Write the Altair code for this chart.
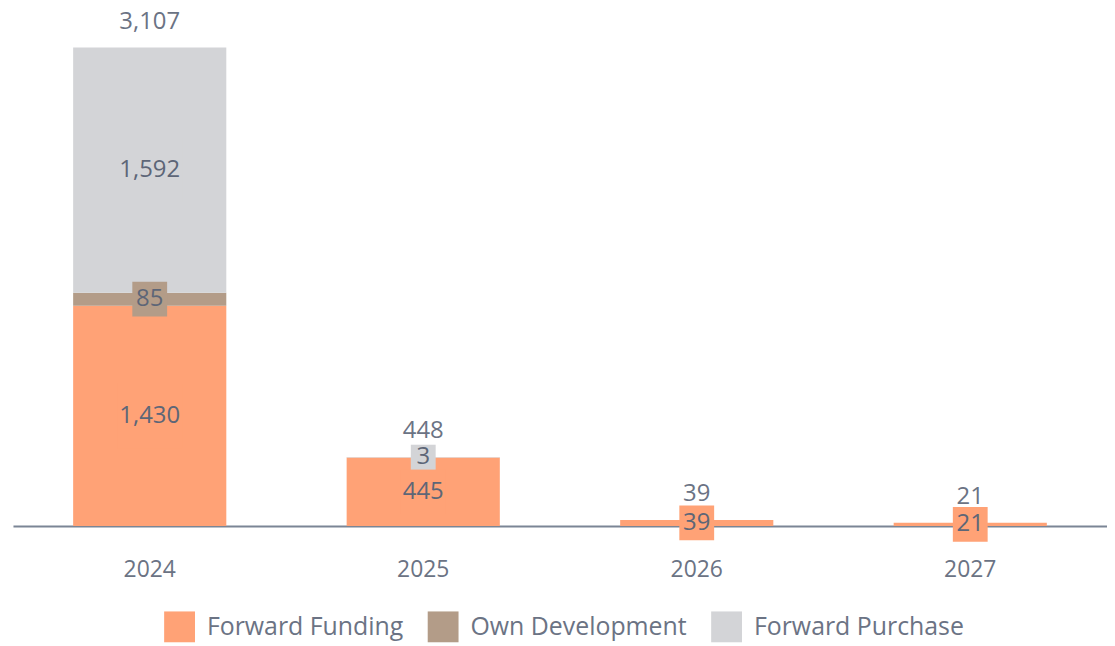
import altair as alt
import pandas as pd

years = ["2024", "2025", "2026", "2027"]
series = ["Forward Funding", "Own Development", "Forward Purchase"]
forward_funding = [1430, 445, 39, 21]
own_development = [85, 0, 0, 0]
forward_purchase = [1592, 3, 0, 0]
colors = ["#FFA276", "#B39C88", "#D3D4D7"]

rows = []
for i, y in enumerate(years):
    base = 0
    for k, (s, vals) in enumerate(zip(series, [forward_funding, own_development, forward_purchase])):
        v = vals[i]
        rows.append({"year": y, "series": s, "value": v, "order": k,
                     "mid": base + v / 2, "label": f"{v:,}"})
        base += v
df = pd.DataFrame(rows)
df_lab = df[df["value"] > 0].copy()
tot = pd.DataFrame({"year": years,
                    "total": [a + b + c for a, b, c in zip(forward_funding, own_development, forward_purchase)]})
tot["label"] = tot["total"].map(lambda v: f"{v:,}")

FONT = "Open Sans"
ymax = tot["total"].max()

x_enc = alt.X("year:N", sort=years, title=None,
              scale=alt.Scale(paddingInner=0, paddingOuter=0),
              axis=alt.Axis(labelFontSize=23, labelColor="#6b7384", labelFont=FONT,
                            domainColor="#7b8595", domainWidth=2, ticks=False,
                            labelPadding=33, labelAngle=0, grid=False))
y_scale = alt.Scale(domain=[0, ymax], nice=False, zero=True)
color_scale = alt.Scale(domain=series, range=colors)

bars = alt.Chart(df).mark_bar(size=154).encode(
    x=x_enc,
    y=alt.Y("value:Q", stack="zero", scale=y_scale, axis=None),
    color=alt.Color("series:N", scale=color_scale, sort=series,
                    legend=alt.Legend(title=None, orient="none", direction="horizontal",
                                      legendX=152, legendY=567,
                                      labelFontSize=25, labelColor="#6b7384", labelFont=FONT,
                                      symbolType="square", symbolSize=961, symbolStrokeWidth=0,
                                      symbolOpacity=1, columnPadding=24, labelOffset=12,
                                      labelLimit=400)),
    order=alt.Order("order:Q"),
)

boxes = alt.Chart(df_lab).transform_calculate(
    bsize="pow(10*length(datum.label)+15, 2)"
).mark_point(shape="square", filled=True, opacity=1, strokeWidth=0).encode(
    x=alt.X("year:N", sort=years),
    y=alt.Y("mid:Q", scale=y_scale),
    color=alt.Color("series:N", scale=color_scale, legend=None),
    size=alt.Size("bsize:Q", scale=None, legend=None),
)

labels = alt.Chart(df_lab).mark_text(fontSize=24, font=FONT, color="#5d6677").encode(
    x=alt.X("year:N", sort=years),
    y=alt.Y("mid:Q", scale=y_scale),
    text="label:N",
)

totals = alt.Chart(tot).mark_text(fontSize=24, font=FONT, color="#6b7384", dy=-26).encode(
    x=alt.X("year:N", sort=years),
    y=alt.Y("total:Q", scale=y_scale),
    text="label:N",
)

chart = alt.layer(bars, boxes, labels, totals).properties(
    width=1100, height=481,
    padding={"left": 5, "top": 0, "right": 0, "bottom": 0},
).configure_view(stroke=None)

chart.save("out.html", embed_options={"renderer": "svg", "actions": False})
